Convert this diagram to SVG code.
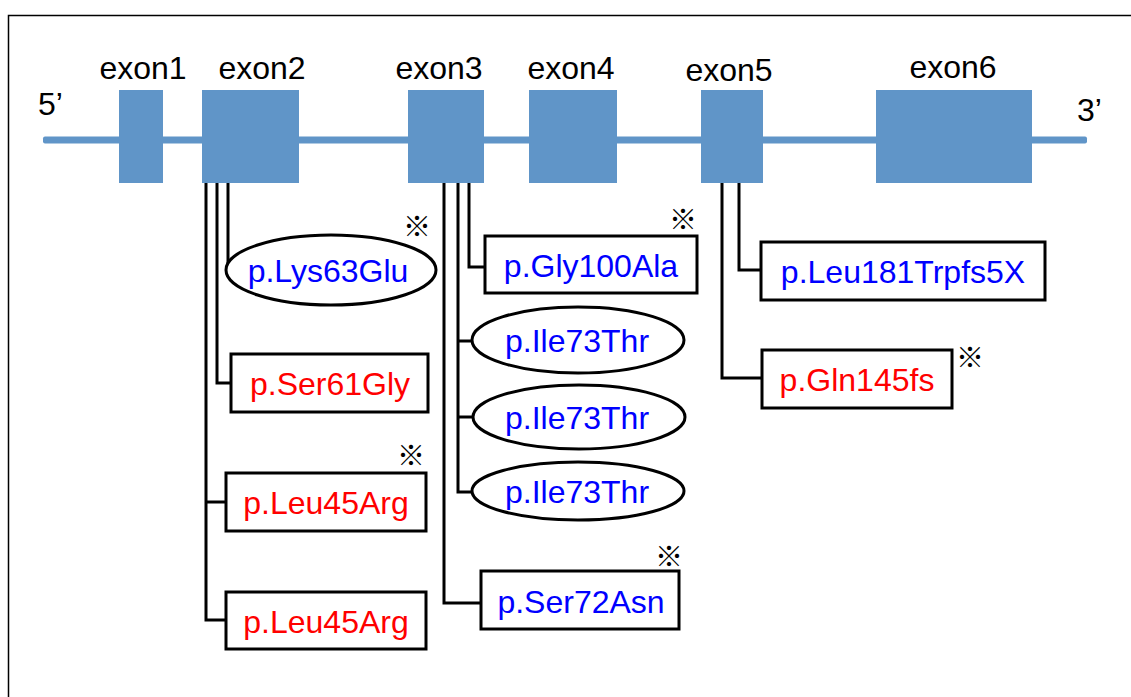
<svg xmlns="http://www.w3.org/2000/svg" width="1131" height="697" viewBox="0 0 1131 697">
<style>
.exon{fill:#6095C8}
.lbl{font-family:"Liberation Sans",Arial,sans-serif;font-size:32px;fill:#000;text-anchor:middle}
.mut{font-family:"Liberation Sans",Arial,sans-serif;font-size:32px;text-anchor:middle}
.blue{fill:#0000FF}
.red{fill:#FF0000}
.box{fill:#fff;stroke:#000;stroke-width:3}
.con{fill:none;stroke:#000;stroke-width:3}
.star{font-family:"Noto Sans CJK JP","DejaVu Sans",sans-serif;font-size:28px;fill:#000;text-anchor:middle}
</style>
<rect x="0" y="0" width="1131" height="697" fill="#fff"/>
<rect x="8.5" y="15.5" width="1200" height="800" fill="none" stroke="#000" stroke-width="1.5"/>
<g id="gene">
<rect x="43" y="136.5" width="1044" height="7" rx="2" class="exon"/>
<text class="lbl" x="38" y="115" style="text-anchor:start">5’</text>
<text class="lbl" x="1077" y="121" style="text-anchor:start">3’</text>
</g>
<g id="exon1"><rect x="119" y="90" width="44" height="93" class="exon"/><text class="lbl" x="143" y="79">exon1</text></g>
<g id="exon2"><rect x="202" y="90" width="97" height="93" class="exon"/><text class="lbl" x="262" y="79">exon2</text></g>
<g id="exon3"><rect x="408" y="90" width="76" height="93" class="exon"/><text class="lbl" x="439" y="79">exon3</text></g>
<g id="exon4"><rect x="529" y="90" width="88" height="93" class="exon"/><text class="lbl" x="571" y="79">exon4</text></g>
<g id="exon5"><rect x="701" y="90" width="62" height="93" class="exon"/><text class="lbl" x="729" y="81">exon5</text></g>
<g id="exon6"><rect x="876" y="90" width="156" height="93" class="exon"/><text class="lbl" x="953" y="78">exon6</text></g>
<g id="connectors">
<polyline class="con" points="228,183 228,270"/>
<polyline class="con" points="217,183 217,383 231,383"/>
<polyline class="con" points="206,183 206,620 226,620"/>
<polyline class="con" points="206,502 226,502"/>
<polyline class="con" points="469,183 469,267 485,267"/>
<polyline class="con" points="458,183 458,492 472,492"/>
<polyline class="con" points="458,341 472,341"/>
<polyline class="con" points="458,417 473,417"/>
<polyline class="con" points="444,183 444,603 481,603"/>
<polyline class="con" points="739,183 739,270 761,270"/>
<polyline class="con" points="722,183 722,378 762,378"/>
</g>
<g id="m-Lys63Glu"><ellipse cx="331" cy="270" rx="105" ry="35" class="box"/><text class="mut blue" x="328" y="282">p.Lys63Glu</text><text class="star" x="417" y="237">※</text></g>
<g id="m-Ser61Gly"><rect x="231" y="354" width="197" height="58" class="box"/><text class="mut red" x="330" y="395">p.Ser61Gly</text></g>
<g id="m-Leu45Arg-1"><rect x="226" y="473" width="200" height="58" class="box"/><text class="mut red" x="326" y="514">p.Leu45Arg</text><text class="star" x="411" y="466">※</text></g>
<g id="m-Leu45Arg-2"><rect x="226" y="592" width="200" height="57" class="box"/><text class="mut red" x="326" y="633">p.Leu45Arg</text></g>
<g id="m-Gly100Ala"><rect x="485" y="236" width="212" height="57" class="box"/><text class="mut blue" x="591" y="277">p.Gly100Ala</text><text class="star" x="683" y="230">※</text></g>
<g id="m-Ile73Thr-1"><ellipse cx="578" cy="340" rx="106" ry="33" class="box"/><text class="mut blue" x="577" y="352">p.Ile73Thr</text></g>
<g id="m-Ile73Thr-2"><ellipse cx="579" cy="417" rx="106" ry="32" class="box"/><text class="mut blue" x="577" y="429">p.Ile73Thr</text></g>
<g id="m-Ile73Thr-3"><ellipse cx="578" cy="491" rx="106" ry="29" class="box"/><text class="mut blue" x="577" y="503">p.Ile73Thr</text></g>
<g id="m-Ser72Asn"><rect x="481" y="571" width="198" height="58" class="box"/><text class="mut blue" x="581" y="613">p.Ser72Asn</text><text class="star" x="669" y="567">※</text></g>
<g id="m-Leu181Trpfs5X"><rect x="761" y="242" width="284" height="58" class="box"/><text class="mut blue" x="903" y="283">p.Leu181Trpfs5X</text></g>
<g id="m-Gln145fs"><rect x="762" y="350" width="190" height="58" class="box"/><text class="mut red" x="857" y="391">p.Gln145fs</text><text class="star" x="970" y="368">※</text></g>
</svg>
